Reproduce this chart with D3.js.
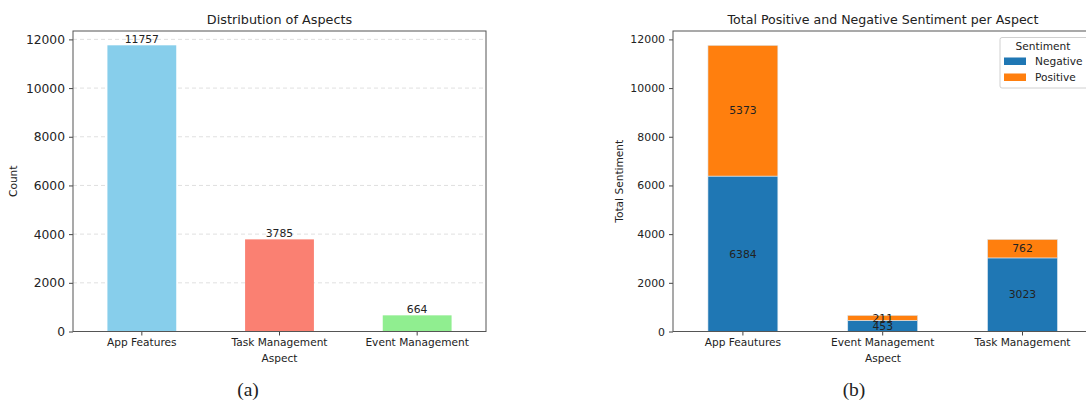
<!DOCTYPE html>
<html>
<head>
<meta charset="utf-8">
<script src="https://cdn.jsdelivr.net/npm/d3@7"></script>
<style>
  body { margin: 0; background: #fff; }
  text { font-family: "DejaVu Sans", sans-serif; fill: #222; }
  .tick line { stroke: #444; }
  .domain { display: none; }
</style>
</head>
<body>
<div id="chart"></div>
<script>
// chart (a): counts per aspect
const aspects = ["App Features", "Task Management", "Event Management"];
const aspectCounts = [11757, 3785, 664];
const aspectColors = ["#87ceeb", "#fa8072", "#90ee90"];

// chart (b): sentiment per aspect (stacked)
const sentAspects = ["App Feautures", "Event Management", "Task Management"];
const negative = [6384, 453, 3023];
const positive = [5373, 211, 762];
const sentiments = ["Negative", "Positive"];
const sentColors = ["#1f77b4", "#ff7f0e"];

const yTicks = [0, 2000, 4000, 6000, 8000, 10000, 12000];

const width = 1086, height = 402;
const svg = d3.select("#chart").append("svg")
  .attr("width", width)
  .attr("height", height);

const plotTop = 31, plotBottom = 331.5;

// ---------- left chart ----------
const L = { x0: 73, x1: 486 };
const xa = d3.scaleBand().domain(aspects).range([L.x0, L.x1]).paddingInner(0.5).paddingOuter(0.25);
const ya = d3.scaleLinear().domain([0, d3.max(aspectCounts) * 1.05]).range([plotBottom, plotTop]);

const ga = svg.append("g");

// dashed grid
ga.append("g").selectAll("line")
  .data(yTicks)
  .join("line")
  .attr("x1", L.x0).attr("x2", L.x1)
  .attr("y1", d => ya(d)).attr("y2", d => ya(d))
  .attr("stroke", "#d8d8d8")
  .attr("stroke-dasharray", "4,3")
  .attr("stroke-width", 0.8);

ga.append("g").selectAll("rect")
  .data(aspects)
  .join("rect")
  .attr("x", d => xa(d))
  .attr("width", xa.bandwidth())
  .attr("y", (d, i) => ya(aspectCounts[i]))
  .attr("height", (d, i) => plotBottom - ya(aspectCounts[i]))
  .attr("fill", (d, i) => aspectColors[i]);

ga.append("g").attr("font-size", 10.8).attr("text-anchor", "middle")
  .selectAll("text")
  .data(aspects)
  .join("text")
  .attr("x", d => xa(d) + xa.bandwidth() / 2)
  .attr("y", (d, i) => ya(aspectCounts[i]) - 2)
  .text((d, i) => aspectCounts[i]);

// y axis
const yAxisA = ga.append("g")
  .attr("transform", `translate(${L.x0},0)`)
  .call(d3.axisLeft(ya).tickValues(yTicks).tickSize(4).tickSizeOuter(0).tickPadding(4).tickFormat(d3.format("d")));
yAxisA.selectAll("text").attr("font-size", 12.3).style("font-family", "DejaVu Sans");

const xAxisA = ga.append("g")
  .attr("transform", `translate(0,${plotBottom})`)
  .call(d3.axisBottom(xa).tickSize(4).tickSizeOuter(0).tickPadding(3));
xAxisA.selectAll("text").attr("font-size", 10.6).style("font-family", "DejaVu Sans");

// frame
ga.append("rect")
  .attr("x", L.x0).attr("y", plotTop)
  .attr("width", L.x1 - L.x0).attr("height", plotBottom - plotTop)
  .attr("fill", "none").attr("stroke", "#555").attr("stroke-width", 1);

ga.append("text").attr("x", (L.x0 + L.x1) / 2).attr("y", 24)
  .attr("text-anchor", "middle").attr("font-size", 12.8).text("Distribution of Aspects");
ga.append("text").attr("x", (L.x0 + L.x1) / 2).attr("y", 362)
  .attr("text-anchor", "middle").attr("font-size", 10.6).text("Aspect");
ga.append("text").attr("transform", `translate(17,${(plotTop + plotBottom) / 2}) rotate(-90)`)
  .attr("text-anchor", "middle").attr("font-size", 10.6).text("Count");

// ---------- right chart ----------
const R = { x0: 673, x1: 1092.4 };
const xb = d3.scaleBand().domain(sentAspects).range([R.x0, R.x1]).paddingInner(0.5).paddingOuter(0.25);
const totals = negative.map((v, i) => v + positive[i]);
const yb = d3.scaleLinear().domain([0, d3.max(totals) * 1.05]).range([plotBottom, plotTop]);

const stackData = sentAspects.map((a, i) => ({ aspect: a, Negative: negative[i], Positive: positive[i] }));
const series = d3.stack().keys(sentiments)(stackData);

const gb = svg.append("g");

gb.append("g").selectAll("g")
  .data(series)
  .join("g")
  .attr("fill", (d, i) => sentColors[i])
  .selectAll("rect")
  .data(d => d)
  .join("rect")
  .attr("x", d => xb(d.data.aspect))
  .attr("width", xb.bandwidth())
  .attr("y", d => yb(d[1]))
  .attr("height", d => yb(d[0]) - yb(d[1]))
  .attr("stroke", "#dde8f0")
  .attr("stroke-width", 0.6);

gb.append("g").attr("font-size", 10.8).attr("text-anchor", "middle")
  .selectAll("g")
  .data(series)
  .join("g")
  .selectAll("text")
  .data(d => d.map(s => ({ s, key: d.key })))
  .join("text")
  .attr("x", d => xb(d.s.data.aspect) + xb.bandwidth() / 2)
  .attr("y", d => yb((d.s[0] + d.s[1]) / 2))
  .attr("dy", "0.35em")
  .text(d => d.s.data[d.key]);

const yAxisB = gb.append("g")
  .attr("transform", `translate(${R.x0},0)`)
  .call(d3.axisLeft(yb).tickValues(yTicks).tickSize(4).tickSizeOuter(0).tickPadding(4).tickFormat(d3.format("d")));
yAxisB.selectAll("text").attr("font-size", 10.9).style("font-family", "DejaVu Sans");

const xAxisB = gb.append("g")
  .attr("transform", `translate(0,${plotBottom})`)
  .call(d3.axisBottom(xb).tickSize(4).tickSizeOuter(0).tickPadding(3));
xAxisB.selectAll("text").attr("font-size", 10.6).style("font-family", "DejaVu Sans");

gb.append("rect")
  .attr("x", R.x0).attr("y", plotTop)
  .attr("width", R.x1 - R.x0).attr("height", plotBottom - plotTop)
  .attr("fill", "none").attr("stroke", "#555").attr("stroke-width", 1);

gb.append("text").attr("x", 883).attr("y", 24)
  .attr("text-anchor", "middle").attr("font-size", 12.6).text("Total Positive and Negative Sentiment per Aspect");
gb.append("text").attr("x", 883).attr("y", 362)
  .attr("text-anchor", "middle").attr("font-size", 10.6).text("Aspect");
gb.append("text").attr("transform", `translate(623,${(plotTop + plotBottom) / 2}) rotate(-90)`)
  .attr("text-anchor", "middle").attr("font-size", 10.6).text("Total Sentiment");

// legend
const lg = gb.append("g").attr("transform", "translate(1000,37.5)");
lg.append("rect").attr("width", 95).attr("height", 50.5).attr("rx", 2)
  .attr("fill", "#fff").attr("fill-opacity", 0.85).attr("stroke", "#d0d0d0");
lg.append("text").attr("x", 43).attr("y", 12).attr("text-anchor", "middle")
  .attr("font-size", 10.6).text("Sentiment");
const items = lg.selectAll("g.item").data(sentiments).join("g")
  .attr("class", "item")
  .attr("transform", (d, i) => `translate(4,${20 + i * 16})`);
items.append("rect").attr("width", 22).attr("height", 7.5).attr("fill", (d, i) => sentColors[i]);
items.append("text").attr("x", 31).attr("y", 4).attr("dy", "0.35em")
  .attr("font-size", 10.6).text(d => d);

// captions
svg.append("text").attr("x", 248).attr("y", 396).attr("text-anchor", "middle")
  .style("font-family", "Liberation Serif, serif").attr("font-size", 19.5).text("(a)");
svg.append("text").attr("x", 854).attr("y", 396).attr("text-anchor", "middle")
  .style("font-family", "Liberation Serif, serif").attr("font-size", 19.5).text("(b)");
</script>
</body>
</html>
